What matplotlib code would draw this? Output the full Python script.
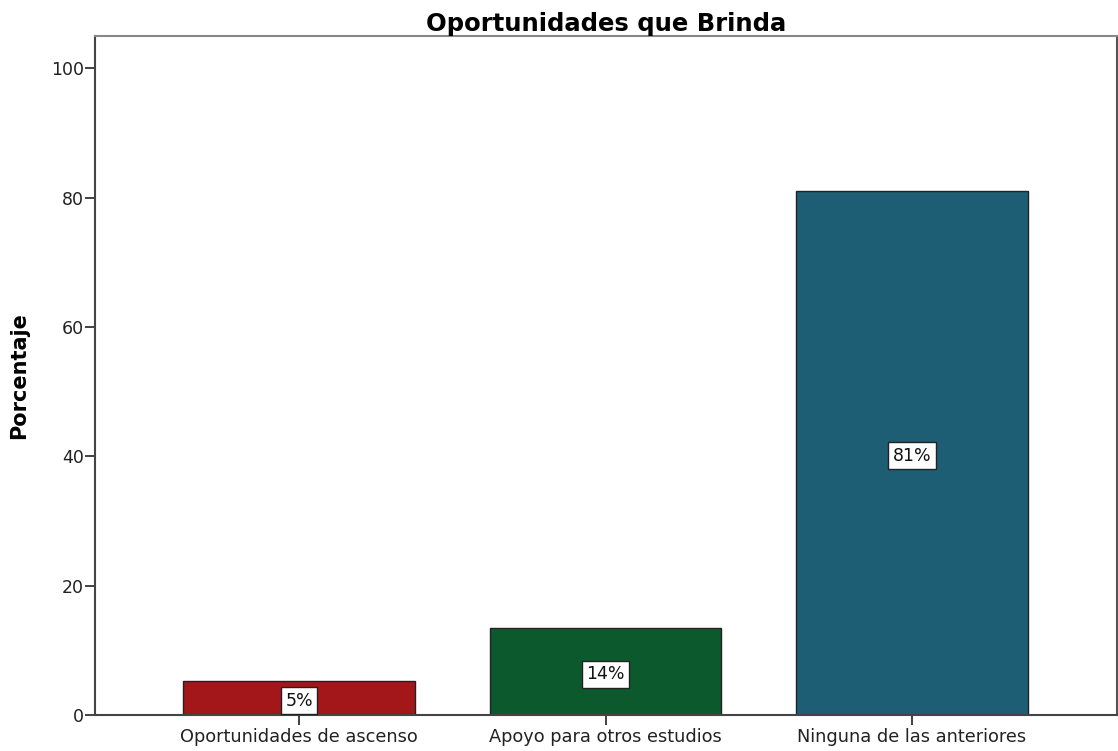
import matplotlib
matplotlib.use('Agg')
import matplotlib.pyplot as plt
import numpy as np

plt.rcParams['font.family'] = ['DejaVu Sans']

categorias = ['Oportunidades de ascenso', 'Apoyo para otros estudios', 'Ninguna de las anteriores']
porcentajes = [5.3, 13.5, 81.1]
etiquetas = ['5%', '14%', '81%']
colores = ['#a3171a', '#0b592d', '#1d5e75']

fig = plt.figure(figsize=(11.18, 7.51), dpi=100)
ax = fig.add_axes([95 / 1118, 36 / 751, 1022 / 1118, 679 / 751])

ind = np.arange(len(categorias))
rects = ax.bar(ind, porcentajes, 0.755, color=colores, edgecolor='#222222', linewidth=1)

ax.set_xlim(-0.666, 2.669)
ax.set_ylim(0, 105)
ax.set_yticks([0, 20, 40, 60, 80, 100])
ax.set_xticks(ind)
ax.set_xticklabels(categorias, fontsize=12.8, color='#222222')
ax.tick_params(axis='y', labelsize=12.5, colors='#222222', length=7, width=1.2, pad=1)
ax.tick_params(axis='x', length=7, width=1.2, colors='#222222', pad=2)

ax.spines['left'].set_color('#444444')
ax.spines['bottom'].set_color('#444444')
ax.spines['top'].set_color('#888888')
ax.spines['right'].set_color('#555555')
for s in ax.spines.values():
    s.set_linewidth(1.5)

ax.set_ylabel('Porcentaje', fontsize=15, fontweight='bold', labelpad=16)
ax.set_title('Oportunidades que Brinda', fontsize=17.5, fontweight='bold', pad=3)

# etiquetas de porcentaje en el centro de cada barra
for rect, txt in zip(rects, etiquetas):
    h = rect.get_height()
    ax.text(rect.get_x() + rect.get_width() / 2, h / 2 - 0.45, txt,
            ha='center', va='center', fontsize=12.5, color='#111111',
            bbox=dict(boxstyle='square,pad=0.25', facecolor='white', edgecolor='#222222', linewidth=1))

plt.savefig('out.png', dpi=100)
